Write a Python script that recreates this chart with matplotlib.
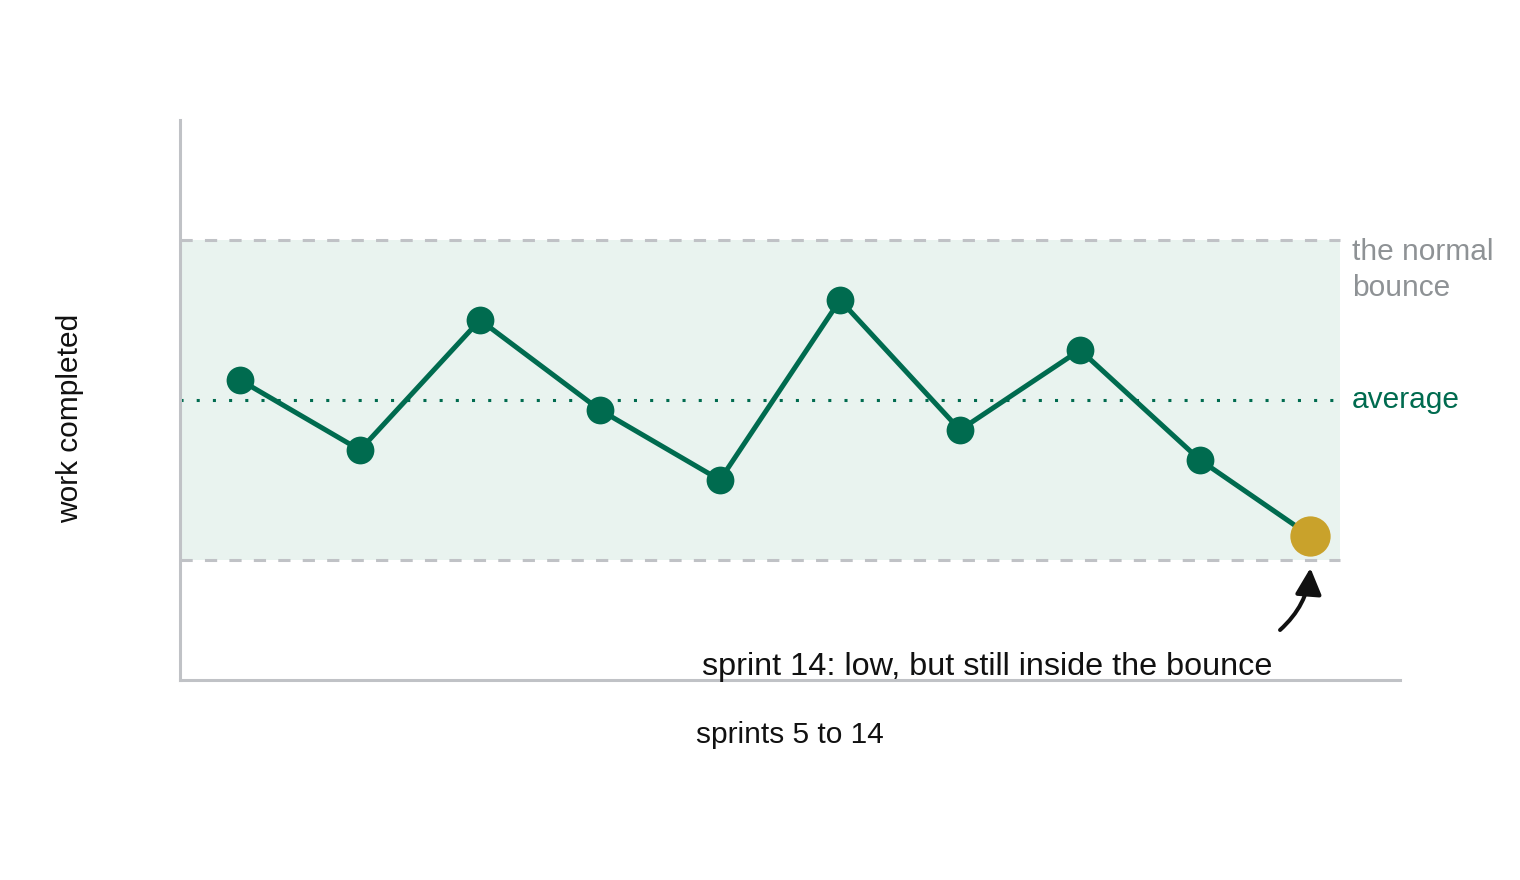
import matplotlib
matplotlib.use("Agg")
import matplotlib.pyplot as plt

plt.rcParams['font.family'] = ['Liberation Sans', 'DejaVu Sans']

# ---- data ----
sprints = [5, 6, 7, 8, 9, 10, 11, 12, 13, 13.92]
work = [7.5, 5.75, 9.0, 6.75, 5.0, 9.5, 6.25, 8.25, 5.5, 3.6]
average = 7.0
band_low, band_high = 3.0, 11.0
x_label = "sprints 5 to 14"
y_label = "work completed"
band_label = "the normal\nbounce"
avg_label = "average"
note = "sprint 14: low, but still inside the bounce"

GREEN = "#006B4F"
GOLD = "#C9A22B"
BAND = "#E9F3EF"
GRAY = "#C0C2C6"
TEXTGRAY = "#8E9295"
FS = 21.5

fig = plt.figure(figsize=(15.2, 8.8), dpi=100)
ax = fig.add_axes([180/1520, 200/880, 1220/1520, 560/880])
ax.set_xlim(4.5, 4.5 + 1220/120)
ax.set_ylim(0, 14)

band_x0, band_x1 = 4.5, 14.167
ax.fill_between([band_x0, band_x1], band_low, band_high, color=BAND, lw=0, zorder=1)
ax.plot([band_x0, band_x1], [band_high, band_high], color=GRAY, lw=2.2,
        dashes=(4, 4), zorder=2, dash_capstyle='butt')
ax.plot([band_x0, band_x1], [band_low, band_low], color=GRAY, lw=2.2,
        dashes=(4, 4), zorder=2, dash_capstyle='butt')
ax.plot([band_x0, band_x1], [average, average], color=GREEN, lw=2.2,
        dashes=(1, 4.3), zorder=2, dash_capstyle='butt')

ax.plot(sprints, work, color=GREEN, lw=3.6, zorder=3)
ax.plot(sprints[:-1], work[:-1], 'o', color=GREEN, ms=20, mec='none', zorder=4)
ax.plot(sprints[-1:], work[-1:], 'o', color=GOLD, ms=29, mec='none', zorder=5)

# labels at right
ax.text(14.267, 10.25, band_label, color=TEXTGRAY, fontsize=FS, va='center',
        ha='left', linespacing=1.32)
ax.text(14.267, average, avg_label, color=GREEN, fontsize=FS, va='center', ha='left')

# annotation
ax.annotate("", xy=(sprints[-1], 2.8), xytext=(13.667, 1.25),
            arrowprops=dict(arrowstyle="-|>,head_length=0.8,head_width=0.4",
                            mutation_scale=20, color="#111111", lw=2.9,
                            shrinkA=0, shrinkB=0,
                            connectionstyle="arc3,rad=0.2"), zorder=6)
ax.text(11.225, 0.33, note, color="#111111", fontsize=23.3, ha='center', va='center', zorder=6)

for s in ['top', 'right']:
    ax.spines[s].set_visible(False)
for s in ['left', 'bottom']:
    ax.spines[s].set_color(GRAY)
    ax.spines[s].set_linewidth(2.2)
ax.set_xticks([])
ax.set_yticks([])

fig.text(790/1520, 1 - 735/880, x_label, fontsize=FS, ha='center', va='center', color="#111111")
fig.text(70/1520, 1 - 418/880, y_label, fontsize=FS, ha='center', va='center',
         rotation=90, color="#111111")

fig.savefig("out.png", dpi=100, facecolor='white')
